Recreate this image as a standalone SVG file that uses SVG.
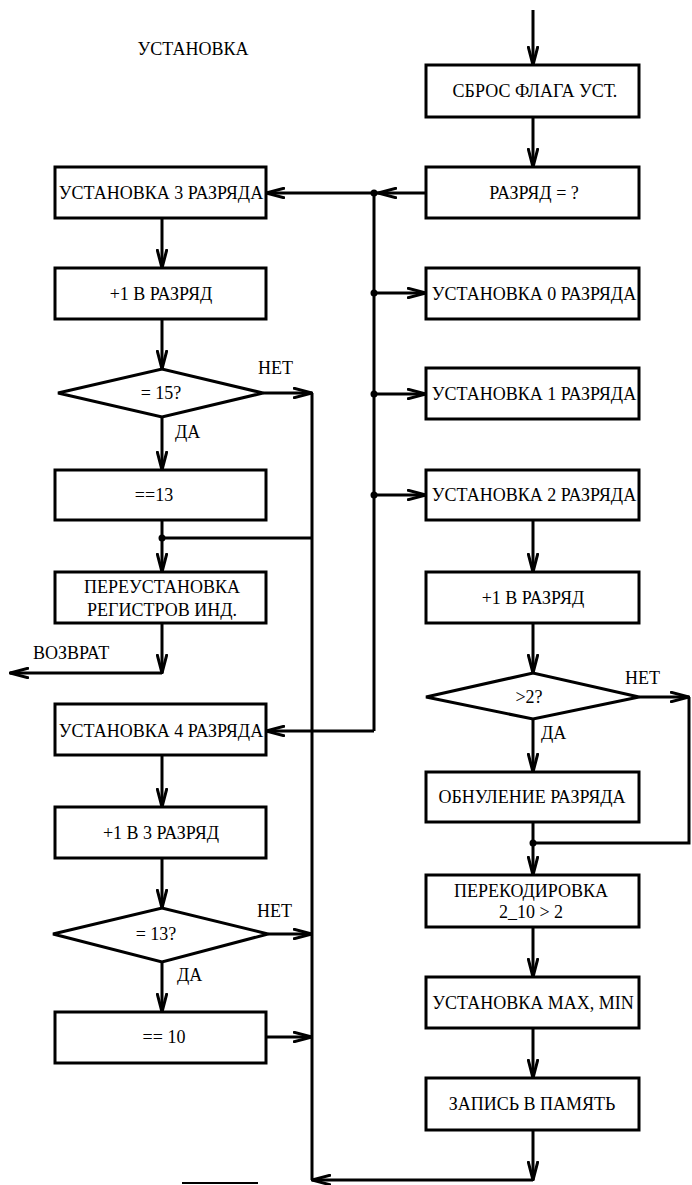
<svg xmlns="http://www.w3.org/2000/svg" width="692" height="1185" viewBox="0 0 692 1185">
<style>
  .box { fill: #fff; stroke: #000; stroke-width: 3; }
  .t { font-family: "Liberation Serif", "Times New Roman", serif; font-size: 18px; fill: #000; text-anchor: middle; }
  .tl { font-family: "Liberation Serif", "Times New Roman", serif; font-size: 18px; fill: #000; }
  .c { fill: none; stroke: #000; stroke-width: 3; }
  .ca { fill: none; stroke: #000; stroke-width: 3; marker-end: url(#arr); }
  .dot { fill: #000; }
</style>
<defs>
  <marker id="arr" viewBox="0 0 20 12" refX="19" refY="6" markerWidth="20" markerHeight="12" markerUnits="userSpaceOnUse" orient="auto">
    <path d="M0,1 L19,6 L0,11" fill="none" stroke="#000" stroke-width="3"/>
  </marker>
</defs>
<rect width="692" height="1185" fill="#fff"/>

<text class="t" x="193" y="55">УСТАНОВКА</text>

<g id="connectors">
  <path class="ca" d="M533,10 V65"/>
  <path class="ca" d="M533,117 V167"/>
  <path class="ca" d="M426,193 H378"/>
  <path class="ca" d="M378,193 H266"/>
  <path class="c" d="M374,193 V731"/>
  <path class="ca" d="M374,731 H266"/>
  <path class="ca" d="M374,293 H426"/>
  <path class="ca" d="M374,394 H426"/>
  <path class="ca" d="M374,495 H426"/>
  <path class="ca" d="M533,520 V572"/>
  <path class="ca" d="M533,623 V673"/>
  <path class="ca" d="M533,719 V772"/>
  <path class="ca" d="M639,697 H689"/>
  <path class="c" d="M689,697 V843 H533"/>
  <path class="ca" d="M533,822 V875"/>
  <path class="ca" d="M533,927 V977"/>
  <path class="ca" d="M533,1028 V1078"/>
  <path class="ca" d="M533,1130 V1180"/>
  <path class="ca" d="M533,1180 H312"/>
  <path class="c" d="M312,393 V1180"/>

  <path class="ca" d="M162,218 V268"/>
  <path class="ca" d="M162,319 V369"/>
  <path class="ca" d="M263,393 H312"/>
  <path class="ca" d="M162,417 V470"/>
  <path class="c" d="M312,538 H162"/>
  <path class="ca" d="M162,520 V572"/>
  <path class="ca" d="M162,623 V673"/>
  <path class="ca" d="M162,673 H10"/>
  <path class="ca" d="M162,755 V807"/>
  <path class="ca" d="M162,858 V908"/>
  <path class="ca" d="M268,934 H312"/>
  <path class="ca" d="M162,962 V1012"/>
  <path class="ca" d="M266,1037 H312"/>

  <circle class="dot" cx="374" cy="193" r="3.5"/>
  <circle class="dot" cx="374" cy="293" r="3.5"/>
  <circle class="dot" cx="374" cy="394" r="3.5"/>
  <circle class="dot" cx="374" cy="495" r="3.5"/>
  <circle class="dot" cx="533" cy="843" r="3.5"/>
  <circle class="dot" cx="162" cy="538" r="3.5"/>

  <text class="tl" x="258" y="374">НЕТ</text>
  <text class="tl" x="175" y="438">ДА</text>
  <text class="tl" x="33" y="659">ВОЗВРАТ</text>
  <text class="tl" x="257" y="917">НЕТ</text>
  <text class="tl" x="177" y="981">ДА</text>
  <text class="tl" x="625" y="684">НЕТ</text>
  <text class="tl" x="541" y="739">ДА</text>
  <path class="c" d="M182,1183 H258" style="stroke-width:2"/>
</g>

<g id="n_sbros"><rect class="box" x="426" y="65" width="213" height="52"/><text class="t" x="535" y="97">СБРОС ФЛАГА УСТ.</text></g>
<g id="n_razryad"><rect class="box" x="426" y="167" width="213" height="51"/><text class="t" x="534" y="199">РАЗРЯД = ?</text></g>
<g id="n_ust0"><rect class="box" x="426" y="268" width="213" height="51"/><text class="t" x="534" y="300">УСТАНОВКА 0 РАЗРЯДА</text></g>
<g id="n_ust1"><rect class="box" x="426" y="368" width="213" height="51"/><text class="t" x="534" y="400">УСТАНОВКА 1 РАЗРЯДА</text></g>
<g id="n_ust2"><rect class="box" x="426" y="470" width="213" height="50"/><text class="t" x="534" y="501">УСТАНОВКА 2 РАЗРЯДА</text></g>
<g id="n_plus1r"><rect class="box" x="426" y="572" width="213" height="51"/><text class="t" x="533" y="604">+1 В РАЗРЯД</text></g>
<g id="n_gt2"><polygon class="box" points="426,697 533,673 639,697 533,719"/><text class="t" x="529" y="703">&gt;2?</text></g>
<g id="n_obnul"><rect class="box" x="426" y="772" width="213" height="50"/><text class="t" x="532" y="803">ОБНУЛЕНИЕ РАЗРЯДА</text></g>
<g id="n_perekod"><rect class="box" x="426" y="875" width="213" height="52"/><text class="t" x="531" y="897">ПЕРЕКОДИРОВКА</text><text class="t" x="531" y="918">2_10 &gt; 2</text></g>
<g id="n_maxmin"><rect class="box" x="426" y="977" width="213" height="51"/><text class="t" x="533" y="1009">УСТАНОВКА MAX, MIN</text></g>
<g id="n_zapis"><rect class="box" x="426" y="1078" width="213" height="52"/><text class="t" x="532" y="1110">ЗАПИСЬ В ПАМЯТЬ</text></g>

<g id="n_ust3"><rect class="box" x="55" y="167" width="211" height="51"/><text class="t" x="161" y="199">УСТАНОВКА 3 РАЗРЯДА</text></g>
<g id="n_plus1l"><rect class="box" x="55" y="268" width="211" height="51"/><text class="t" x="161" y="300">+1 В РАЗРЯД</text></g>
<g id="n_eq15"><polygon class="box" points="58,393 162,369 263,393 162,417"/><text class="t" x="161" y="399">= 15?</text></g>
<g id="n_eq13a"><rect class="box" x="55" y="470" width="211" height="50"/><text class="t" x="154" y="501">==13</text></g>
<g id="n_pereust"><rect class="box" x="55" y="572" width="211" height="51"/><text class="t" x="162" y="593">ПЕРЕУСТАНОВКА</text><text class="t" x="162" y="616">РЕГИСТРОВ ИНД.</text></g>
<g id="n_ust4"><rect class="box" x="55" y="704" width="211" height="51"/><text class="t" x="161" y="737">УСТАНОВКА 4 РАЗРЯДА</text></g>
<g id="n_plus13"><rect class="box" x="55" y="807" width="211" height="51"/><text class="t" x="161" y="839">+1 В 3 РАЗРЯД</text></g>
<g id="n_eq13"><polygon class="box" points="53,934 162,908 268,934 162,962"/><text class="t" x="156" y="940">= 13?</text></g>
<g id="n_eq10"><rect class="box" x="55" y="1012" width="211" height="51"/><text class="t" x="164" y="1043">== 10</text></g>
</svg>
